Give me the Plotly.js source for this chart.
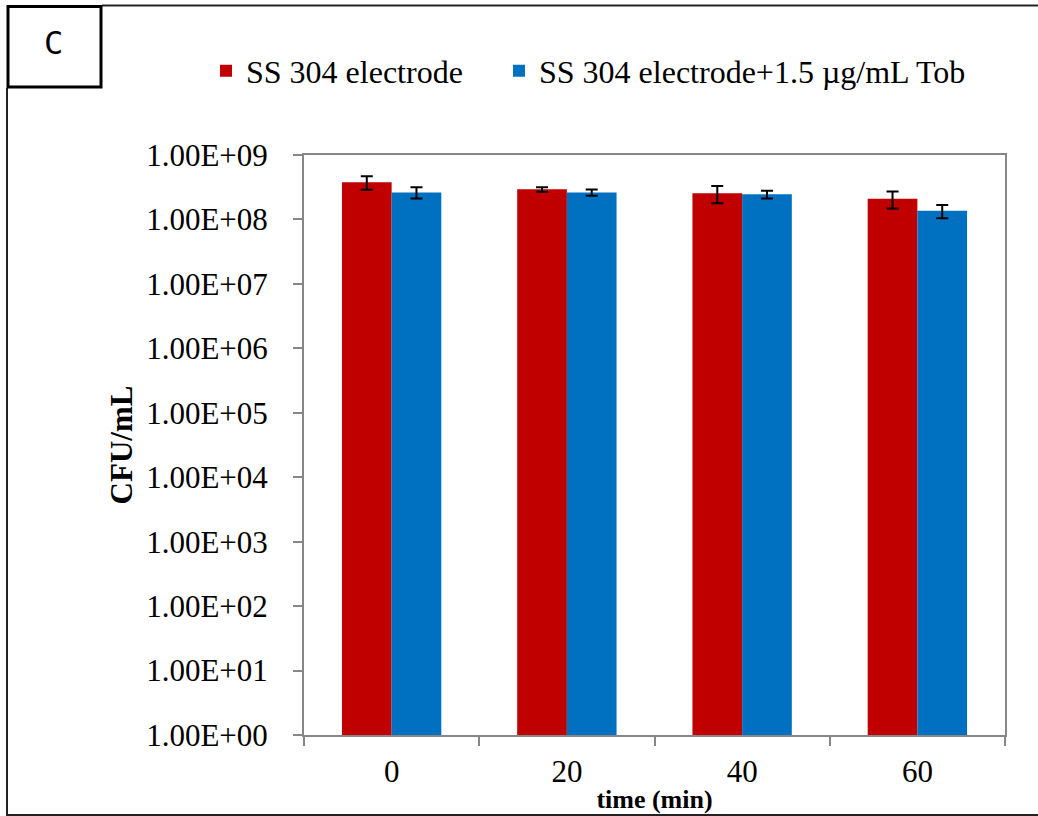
<!DOCTYPE html>
<html>
<head>
<meta charset="utf-8">
<script src="https://cdn.plot.ly/plotly-3.0.1.min.js"></script>
<style>
  html, body { margin: 0; padding: 0; background: #fff; }
  #chart { width: 1038px; height: 816px; }
</style>
</head>
<body>
<div id="chart"></div>
<script>
// ---- data ----
const categories = ['0', '20', '40', '60'];
const seriesNames = ['SS 304 electrode', 'SS 304 electrode+1.5 \u00b5g/mL Tob'];
const electrodeValues = [3.77e8, 2.93e8, 2.54e8, 2.10e8];
const electrodeErrors = [0.89e8, 0.24e8, 0.75e8, 0.62e8];
const tobValues = [2.63e8, 2.63e8, 2.45e8, 1.36e8];
const tobErrors = [0.52e8, 0.29e8, 0.33e8, 0.32e8];
const yTickValues = [1e0, 1e1, 1e2, 1e3, 1e4, 1e5, 1e6, 1e7, 1e8, 1e9];
const yTickLabels = ['1.00E+00', '1.00E+01', '1.00E+02', '1.00E+03', '1.00E+04',
                     '1.00E+05', '1.00E+06', '1.00E+07', '1.00E+08', '1.00E+09'];
const panelLabel = 'C';
const xTitle = 'time (min)';
const yTitle = 'CFU/mL';

// ---- layout geometry (pixels) ----
const W = 1038, H = 816;
const M = { l: 304, r: 33, t: 155, b: 81 };
const pw = W - M.l - M.r, ph = H - M.t - M.b;
const px = x => (x - M.l) / pw;
const py = y => (H - M.b - y) / ph;

const serif = '"Liberation Serif", "Times New Roman", Times, serif';
const red = '#C00000', blue = '#0070C0';

const traces = [
  {
    type: 'bar', name: seriesNames[0], x: categories, y: electrodeValues,
    marker: { color: red }, legend: 'legend',
    error_y: { type: 'data', array: electrodeErrors, visible: true, color: '#000', thickness: 2, width: 6 }
  },
  {
    type: 'bar', name: seriesNames[1], x: categories, y: tobValues,
    marker: { color: blue }, legend: 'legend2',
    error_y: { type: 'data', array: tobErrors, visible: true, color: '#000', thickness: 2, width: 6 }
  }
];

const legendFont = { family: serif, size: 32, color: '#000' };

const layout = {
  width: W, height: H,
  margin: M,
  paper_bgcolor: '#fff', plot_bgcolor: '#fff',
  font: { family: serif, color: '#000', size: 31 },
  barmode: 'group', bargap: 0.433, bargroupgap: 0,
  showlegend: true,
  legend: {
    orientation: 'h', x: px(206), xanchor: 'left', y: py(71), yanchor: 'middle',
    font: legendFont, bgcolor: 'rgba(0,0,0,0)'
  },
  legend2: {
    orientation: 'h', x: px(499), xanchor: 'left', y: py(71), yanchor: 'middle',
    font: legendFont, bgcolor: 'rgba(0,0,0,0)'
  },
  xaxis: {
    type: 'category', categoryorder: 'array', categoryarray: categories,
    tickson: 'boundaries', ticks: 'outside', ticklen: 9, tickwidth: 2, tickcolor: '#878787',
    showline: true, linecolor: '#878787', linewidth: 2, mirror: true,
    showgrid: false, zeroline: false,
    tickfont: { family: serif, size: 31, color: '#000' },
    ticklabelstandoff: 8,
    title: { text: xTitle, font: { family: serif, size: 26, color: '#000', weight: 'bold' }, standoff: 2 }
  },
  yaxis: {
    type: 'log', range: [0, 9],
    tickvals: yTickValues, ticktext: yTickLabels,
    ticks: 'outside', ticklen: 9, tickwidth: 2, tickcolor: '#878787',
    showline: true, linecolor: '#878787', linewidth: 2, mirror: true,
    showgrid: false, zeroline: false,
    tickfont: { family: serif, size: 31, color: '#000' },
    ticklabelstandoff: 19,
    title: { text: yTitle, font: { family: serif, size: 31, color: '#000', weight: 'bold' }, standoff: 4 }
  },
  shapes: [
    // outer figure border (top, left, bottom)
    { type: 'line', xref: 'paper', yref: 'paper', x0: px(102), x1: px(1038), y0: py(5.5), y1: py(5.5), line: { color: '#222', width: 2 } },
    { type: 'line', xref: 'paper', yref: 'paper', x0: px(7), x1: px(7), y0: py(88), y1: py(816), line: { color: '#222', width: 2 } },
    { type: 'line', xref: 'paper', yref: 'paper', x0: px(7), x1: px(1038), y0: py(815), y1: py(815), line: { color: '#222', width: 2 } },
    // panel label box
    { type: 'rect', xref: 'paper', yref: 'paper', x0: px(8), x1: px(101), y0: py(6.5), y1: py(87), line: { color: '#000', width: 3 }, fillcolor: 'rgba(0,0,0,0)' }
  ],
  annotations: [
    { text: panelLabel, xref: 'paper', yref: 'paper', x: px(53), y: py(43), xanchor: 'center', yanchor: 'middle',
      showarrow: false, font: { family: '"DejaVu Sans Mono", monospace', size: 32, color: '#000' } }
  ]
};

Plotly.newPlot('chart', traces, layout, { displayModeBar: false, staticPlot: true });
</script>
</body>
</html>
